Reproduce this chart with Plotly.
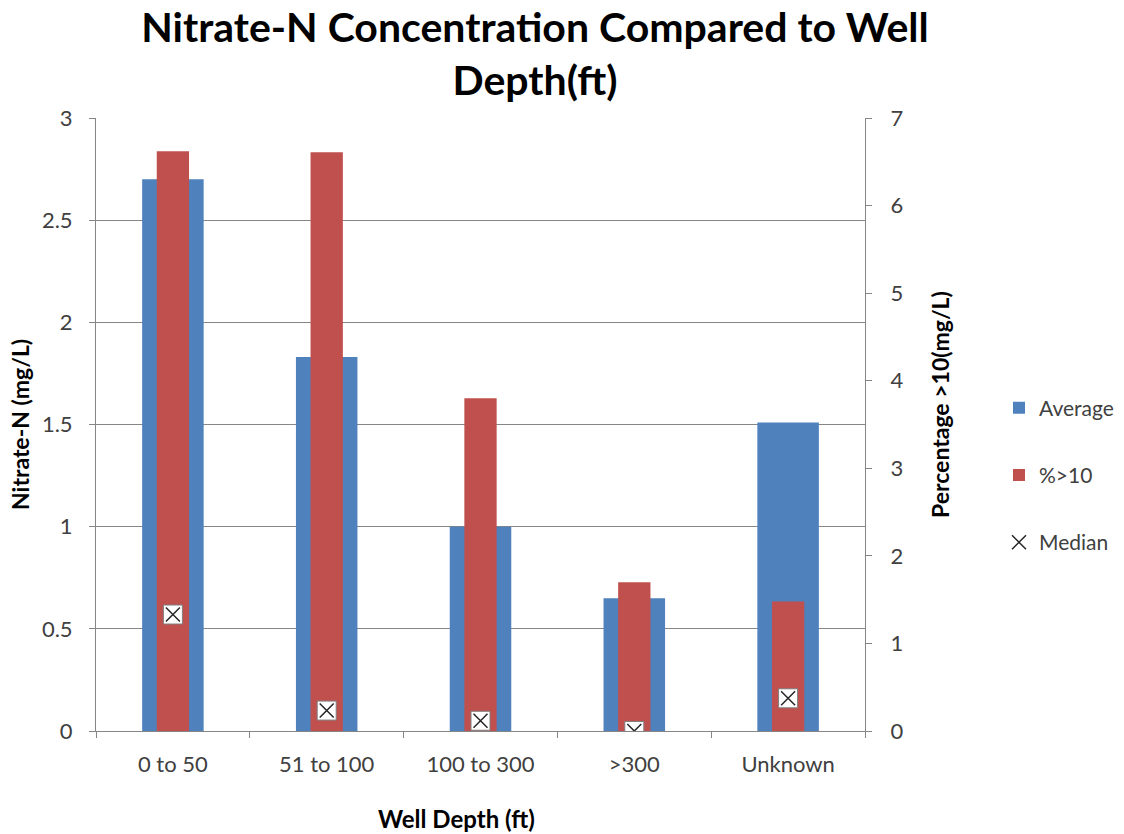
import plotly.graph_objects as go

categories = ["0 to 50", "51 to 100", "100 to 300", ">300", "Unknown"]
average = [2.70, 1.83, 1.00, 0.65, 1.51]
pct_over_10 = [6.62, 6.61, 3.80, 1.70, 1.48]
median = [0.57, 0.10, 0.05, 0.0, 0.16]

left_ticks = [0, 0.5, 1, 1.5, 2, 2.5, 3]
left_tick_text = ["0", "0.5", "1", "1.5", "2", "2.5", "3"]
right_ticks = [0, 1, 2, 3, 4, 5, 6, 7]

blue = "#4F81BD"
red = "#C0504D"
axis_gray = "#868686"
text_gray = "#404040"
font_family = "Lato, Open Sans, sans-serif"

fig = go.Figure()
fig.add_trace(go.Bar(x=categories, y=average, name="Average", marker_color=blue,
                     marker_line_width=0, width=0.40, yaxis="y", legendgroup="a"))
fig.add_trace(go.Bar(x=categories, y=pct_over_10, name="%>10", marker_color=red,
                     marker_line_width=0, width=0.21, yaxis="y2", legendgroup="b"))
fig.add_trace(go.Scatter(x=categories, y=median, mode="markers", yaxis="y3",
                         marker=dict(symbol="square", size=19, color="white",
                                     line=dict(color="#7f7f7f", width=1)),
                         showlegend=False, hoverinfo="skip"))
fig.add_trace(go.Scatter(x=categories, y=median, mode="markers", name="Median",
                         yaxis="y3", legendgroup="c",
                         marker=dict(symbol="x-thin-open", size=14, color="#262626",
                                     line=dict(color="#262626", width=1.5))))

fig.update_layout(
    width=1124, height=834,
    margin=dict(l=96, r=259, t=118, b=103, autoexpand=False),
    paper_bgcolor="white", plot_bgcolor="white",
    barmode="overlay",
    font=dict(family=font_family, size=22, color=text_gray),
    title=dict(text="<b>Nitrate-N Concentration Compared to Well<br>Depth(ft)</b>",
               x=535 / 1124, xanchor="center", y=1 - 42 / 834, yanchor="middle",
               font=dict(size=41, color="black", family=font_family)),
    xaxis=dict(type="category", range=[-0.5, 4.5], showline=True, linecolor=axis_gray,
               linewidth=1, ticks="outside", tickson="boundaries", tickcolor=axis_gray,
               ticklen=6, showgrid=False, ticklabelstandoff=14,
               tickfont=dict(size=22, color=text_gray)),
    yaxis=dict(range=[0, 3], tickvals=left_ticks, ticktext=left_tick_text,
               showline=True, linecolor=axis_gray, ticks="outside", tickcolor=axis_gray,
               ticklen=6, showgrid=True, gridcolor=axis_gray, gridwidth=1,
               zeroline=False, ticklabelstandoff=12,
               tickfont=dict(size=22, color=text_gray)),
    yaxis2=dict(range=[0, 7], tickvals=right_ticks, overlaying="y", side="right",
                showline=True, linecolor=axis_gray, ticks="outside", tickcolor=axis_gray,
                ticklen=6, showgrid=False, zeroline=False, ticklabelstandoff=14,
                tickfont=dict(size=22, color=text_gray)),
    yaxis3=dict(range=[0, 3], overlaying="y", visible=False),
    legend=dict(x=(999 - 96) / 769, xanchor="left", y=(731 - 475) / 613,
                yanchor="middle", tracegroupgap=37,
                font=dict(size=21, color=text_gray),
                itemwidth=30, bgcolor="rgba(0,0,0,0)"),
    annotations=[
        dict(text="<b>Nitrate-N (mg/L)</b>", xref="paper", yref="paper",
             x=-76 / 769, y=(731 - 425) / 613, xanchor="center", yanchor="middle",
             textangle=-90, showarrow=False, font=dict(size=23, color="black")),
        dict(text="<b>Percentage >10(mg/L)</b>", xref="paper", yref="paper",
             x=1 + 75 / 769, y=(731 - 405) / 613, xanchor="center", yanchor="middle",
             textangle=-90, showarrow=False, font=dict(size=23, color="black")),
        dict(text="<b>Well Depth (ft)</b>", xref="paper", yref="paper",
             x=(456 - 96) / 769, y=-87 / 613, xanchor="center", yanchor="middle",
             showarrow=False, font=dict(size=24, color="black")),
    ],
)

fig.write_html("out.html")
